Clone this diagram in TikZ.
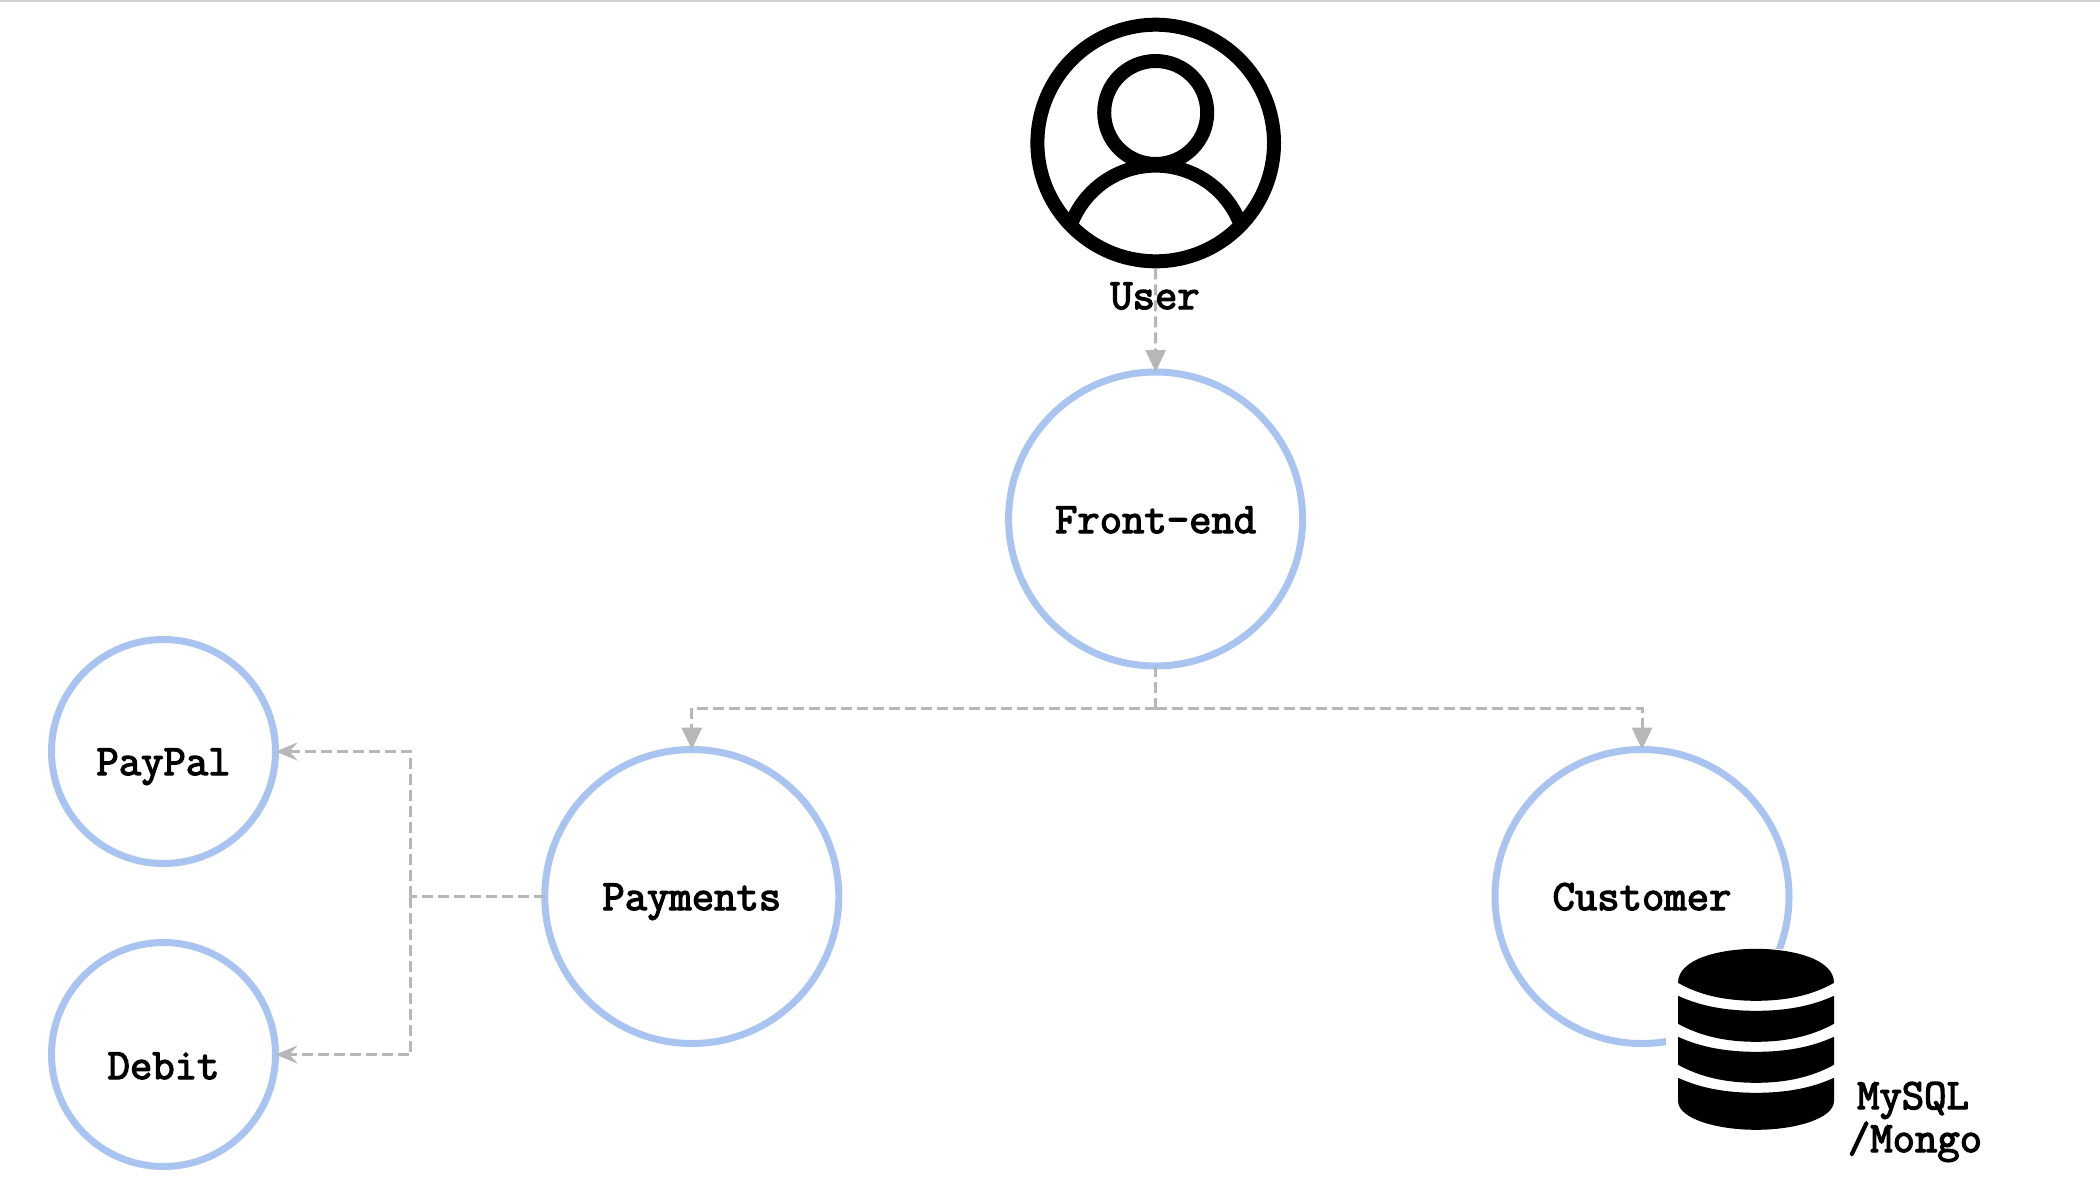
\documentclass[tikz,border=0pt]{standalone}
\usepackage{fontspec}
\usetikzlibrary{arrows.meta,calc}
\newfontfamily\labfont{Latin Modern Mono}[FakeBold=3]
\definecolor{ringblue}{HTML}{A9C4F0}
\definecolor{linkgray}{HTML}{B7B7B7}
\tikzset{
  x=0.5pt,y=-0.5pt,
  bigring/.style={circle,draw=ringblue,line width=3.5pt,minimum size=147pt,inner sep=0pt,outer sep=0pt},
  smallring/.style={circle,draw=ringblue,line width=3.5pt,minimum size=112pt,inner sep=0pt,outer sep=0pt},
  lab/.style={font=\labfont\fontsize{21.7}{26}\selectfont,text=black,anchor=base,inner sep=0pt},
  link/.style={draw=linkgray,line width=1.5pt,dash pattern=on 5.5pt off 2.5pt},
  solidtip/.style={-{Triangle[length=11pt,width=10pt,fill=linkgray]}},
  barbtip/.style={-{Stealth[length=11pt,width=9pt,inset=4pt,fill=linkgray]}},
}
\begin{document}
\begin{tikzpicture}
\useasboundingbox (0,0) rectangle (2100,1190);
\fill[white] (0,0) rectangle (2100,1190);
\fill[black!18] (0,0) rectangle (2100,1.5);

% rings
\node[bigring] (fe) at (1155.6,519) {};
\node[bigring] (pay) at (691.8,896.5) {};
\node[bigring] (cust) at (1642,896.5) {};
\node[smallring] (pp) at (163.5,751.5) {};
\node[smallring] (deb) at (163.5,1054.5) {};

% user icon
\node[circle,draw=black,line width=7pt,minimum size=118.3pt,inner sep=0pt,outer sep=3.5pt] (user) at (1155.7,143) {};
\draw[black,line width=7pt] (1155.7,112.5) circle[radius=25.75pt];
\begin{scope}
  \clip (user.center) circle[radius=59pt];
  \draw[black,line width=7pt] (1155.7,256) circle[radius=45.2pt];
\end{scope}

% junctions
\coordinate (jtop) at (1155.6,708);
\coordinate (jleft) at (410.5,896.5);

% connectors
\draw[link,solidtip] (user.south) -- (fe.north);
\draw[link] (fe.south) -- (jtop);
\draw[link,solidtip] (jtop) -| (pay.north);
\draw[link,solidtip] (jtop) -| (cust.north);
\draw[link] (pay.west) -- (jleft);
\draw[link,barbtip] (jleft) |- (pp.east);
\draw[link,barbtip] (jleft) |- (deb.east);

% database icon
\fill[white] (1666,949) rectangle (1860,1140);
\begin{scope}[yshift=-0.4pt]
\fill[black] (1678,982) .. controls (1678,958) and (1720,948) .. (1756,948) .. controls (1792,948) and (1834,958) .. (1834,982) .. controls (1815,993) and (1790,1000) .. (1756,1000) .. controls (1722,1000) and (1697,993) .. (1678,982) -- cycle;
\fill[black] (1678,995) .. controls (1700,1005) and (1725,1010) .. (1756,1010) .. controls (1787,1010) and (1812,1005) .. (1834,995) -- (1834,1023) .. controls (1812,1035) and (1787,1041) .. (1756,1041) .. controls (1725,1041) and (1700,1035) .. (1678,1023) -- cycle;
\fill[black] (1678,1036) .. controls (1700,1046) and (1725,1051) .. (1756,1051) .. controls (1787,1051) and (1812,1046) .. (1834,1036) -- (1834,1064) .. controls (1812,1076) and (1787,1082) .. (1756,1082) .. controls (1725,1082) and (1700,1076) .. (1678,1064) -- cycle;
\fill[black] (1678,1077) .. controls (1700,1087) and (1725,1092) .. (1756,1092) .. controls (1787,1092) and (1812,1087) .. (1834,1077) -- (1834,1100) .. controls (1834,1118) and (1795,1129) .. (1756,1129) .. controls (1717,1129) and (1678,1118) .. (1678,1100) -- cycle;
\end{scope}

% labels
\node[lab] (tuser) at (1155,309) {User};
\node[lab] (tfe) at (1155.6,533) {Front-end};
\node[lab] (tpay) at (691.8,910) {Payments};
\node[lab] (tcust) at (1642,910) {Customer};
\node[lab] (tpp) at (163.5,775) {PayPal};
\node[lab] (tdeb) at (163.5,1079) {Debit};
\node[lab] (tdb) at (1913,1109) {MySQL};
\node[lab] (tmongo) at (1915,1152) {/Mongo};
\end{tikzpicture}
\end{document}
